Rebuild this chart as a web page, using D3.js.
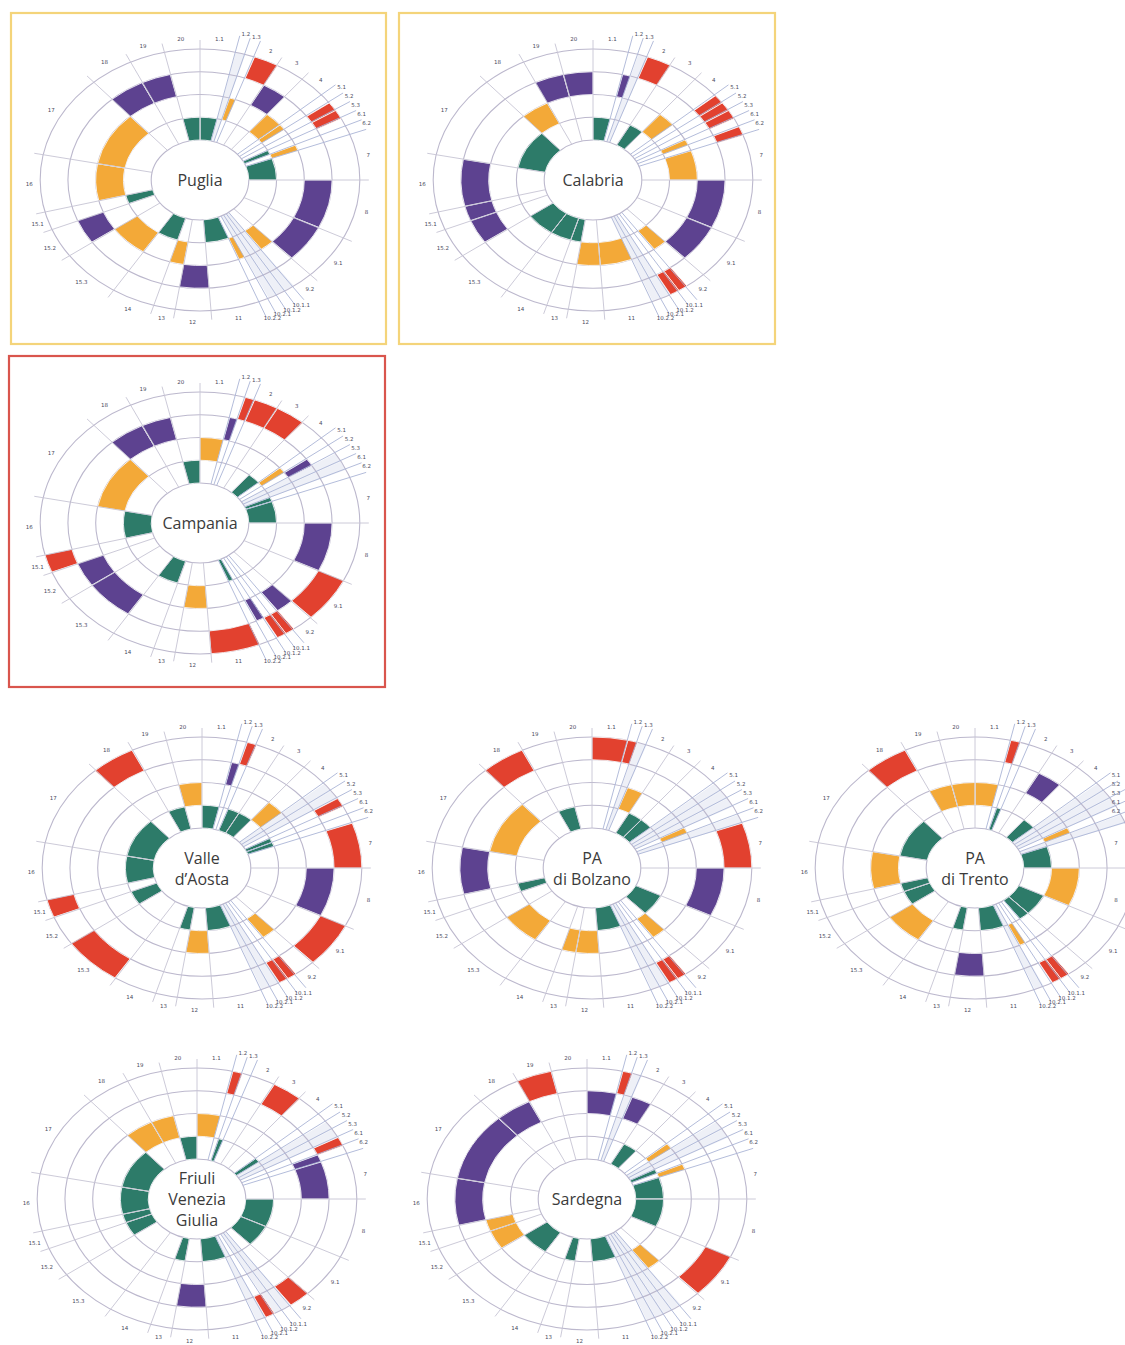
<!DOCTYPE html>
<html><head><meta charset="utf-8">
<script src="https://cdn.jsdelivr.net/npm/d3@7"></script>
<style>body{margin:0;background:#fff} svg{display:block}</style>
</head><body>
<svg id="c" width="1125" height="1345"></svg>
<script>
// ---------- data ----------
const sectorLabels = ["1.1","1.2","1.3","2","3","4","5.1","5.2","5.3","6.1","6.2","7","8","9.1","9.2","10.1.1","10.1.2","10.2.1","10.2.2","11","12","13","14","15.3","15.2","15.1","16","17","18","19","20"];
const sectorSpan   = [13,3.5,3.5,9,11,10,4,4,4,4,4,20,26,20,8,3.5,3.5,3.5,3.5,18,13,8,16,22,13,8,25,37,16,13,13];
const levels = [1,2,3,4];
const regionNames = ["Puglia","Calabria","Campania","Valle d’Aosta","PA di Bolzano","PA di Trento","Friuli Venezia Giulia","Sardegna"];
const regionLines = [["Puglia"],["Calabria"],["Campania"],["Valle","d’Aosta"],["PA","di Bolzano"],["PA","di Trento"],["Friuli","Venezia","Giulia"],["Sardegna"]];
// level per sector (0 = no value)
const puglia   = [1,0,2,4,3,2,2,4,4,1,2,1,3,3,2,0,0,0,2,1,3,2,1,2,3,1,2,2,3,3,1];
const calabria = [1,3,0,4,1,2,4,4,4,2,4,2,3,3,2,4,4,0,0,2,2,1,1,1,3,3,3,1,2,3,3];
const campania = [2,3,4,4,4,1,2,3,0,0,1,1,3,4,3,4,4,3,1,4,2,0,1,3,3,4,1,2,3,3,1];
const valle    = [1,3,4,1,1,2,0,0,4,1,1,4,3,4,2,4,4,0,0,1,2,1,0,4,1,4,1,1,4,1,2];
const bolzano  = [4,4,0,2,1,1,0,0,0,2,0,4,3,1,2,4,4,0,0,1,2,2,0,2,0,1,3,2,4,1,0];
const trento   = [2,4,1,0,3,1,0,0,0,2,0,1,2,1,1,4,4,2,0,1,3,1,0,2,1,1,2,1,4,2,2];
const friuli   = [2,4,1,0,4,0,1,0,0,4,3,3,1,1,4,0,0,4,0,1,3,1,0,0,1,1,1,1,2,2,1];
const sardegna = [3,4,0,3,1,0,2,0,0,1,2,1,1,4,2,0,0,0,0,1,0,1,0,1,2,2,3,3,3,4,0];
const regionValues = [puglia,calabria,campania,valle,bolzano,trento,friuli,sardegna];

// ---------- layout / style ----------
const centers = [[200,180],[593,180],[200,523],[202,868],[592,868],[975,868],[197,1199],[587,1199]];
const frames = [
  {x:11,y:13,w:375,h:331,c:"#f4d47a"},
  {x:399,y:13,w:376,h:331,c:"#f4d47a"},
  {x:9,y:356,w:376,h:331,c:"#d9554d"}
];
const levelColor = d3.scaleOrdinal().domain(levels).range(["#2d7b69","#f3a938","#5d4290","#e2412f"]);
const sx = 1.22;
const rScale = d3.scaleLinear().domain([0,4]).range([40,131]);
const total = d3.sum(sectorSpan);
const aScale = d3.scaleLinear().domain([0,total]).range([0,2*Math.PI]);
const starts = d3.cumsum([0,...sectorSpan]); // length n+1

const svg = d3.select("#c");
svg.append("rect").attr("width",1125).attr("height",1345).attr("fill","#fff");

frames.forEach(f=>{
  svg.append("rect").attr("x",f.x).attr("y",f.y).attr("width",f.w).attr("height",f.h)
    .attr("fill","none").attr("stroke",f.c).attr("stroke-width",2.2);
});

const arc = d3.arc();
function pt(r,a){ return [sx*r*Math.sin(a), -r*Math.cos(a)]; }

regionValues.forEach((vals,ri)=>{
  const [cx,cy] = centers[ri];
  const g = svg.append("g").attr("transform",`translate(${cx},${cy})`);
  const e = g.append("g").attr("transform",`scale(${sx},1)`);
  const R0 = rScale(0), R4 = rScale(4);

  // no-data narrow strips
  vals.forEach((v,i)=>{
    if(v===0 && sectorSpan[i] < 5){
      e.append("path")
        .attr("d", arc({innerRadius:R0,outerRadius:R4,startAngle:aScale(starts[i]),endAngle:aScale(starts[i+1])}))
        .attr("fill","#eef0f7").attr("stroke","none");
    }
  });

  // grid circles
  d3.range(0,5).forEach(k=>{
    e.append("circle").attr("r",rScale(k)).attr("fill","none")
      .attr("stroke","#bcb8cd").attr("stroke-width",1.1)
      .attr("vector-effect","non-scaling-stroke");
  });

  // spokes
  starts.slice(0,-1).forEach((s,i)=>{
    const a = aScale(s);
    const prevNarrow = sectorSpan[(i-1+sectorSpan.length)%sectorSpan.length] < 5;
    const narrow = sectorSpan[i] < 5 || prevNarrow;
    const ext = narrow ? 17 : 9;
    const p0 = pt(R0,a), p1 = pt(R4,a);
    g.append("line").attr("x1",p0[0]).attr("y1",p0[1])
      .attr("x2",p1[0]+ext*Math.sin(a)).attr("y2",p1[1]-ext*Math.cos(a))
      .attr("stroke", narrow ? "#aab4d6" : "#c6c4d4").attr("stroke-width",0.9);
  });

  // cells
  vals.forEach((v,i)=>{
    if(v>0){
      e.append("path")
        .attr("d", arc({innerRadius:rScale(v-1),outerRadius:rScale(v),startAngle:aScale(starts[i]),endAngle:aScale(starts[i+1])}))
        .attr("fill",levelColor(v)).attr("stroke","#ffffff").attr("stroke-width",0.8)
        .attr("vector-effect","non-scaling-stroke");
    }
  });

  // sector labels
  sectorLabels.forEach((lab,i)=>{
    const a = aScale((starts[i]+starts[i+1])/2);
    const narrow = sectorSpan[i] < 5;
    const off = narrow ? 20 : 11;
    const p = pt(R4,a);
    let x = p[0]+off*Math.sin(a);
    let y = p[1]-off*Math.cos(a);
    const maxX = 1121 - cx - 5;   // keep text inside the page
    const maxY = 1341 - cy;
    if (x > maxX) x = maxX;
    if (y > maxY) y = maxY;
    g.append("text").attr("x",x).attr("y",y)
      .attr("text-anchor","middle").attr("dominant-baseline","central")
      .attr("font-family","DejaVu Sans, sans-serif").attr("font-size",5.5)
      .attr("fill","#4b4b60").text(lab);
  });

  // centre name
  const lines = regionLines[ri];
  const lh = 21;
  lines.forEach((ln,k)=>{
    g.append("text").attr("x",0).attr("y",(k-(lines.length-1)/2)*lh)
      .attr("text-anchor","middle").attr("dominant-baseline","central")
      .attr("font-family","Open Sans, Noto Sans, sans-serif").attr("font-size",16)
      .attr("fill","#3b3b3b").text(ln);
  });
});
</script>
</body></html>
